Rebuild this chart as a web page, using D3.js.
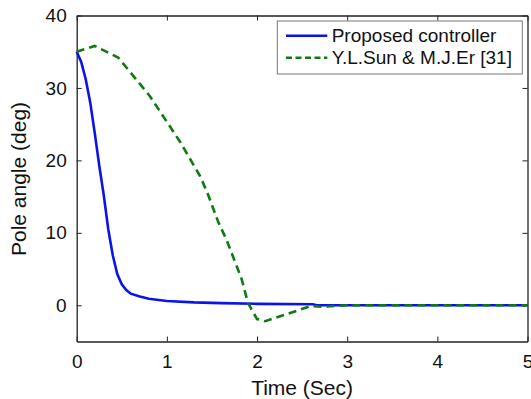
<!DOCTYPE html>
<html>
<head>
<meta charset="utf-8">
<script src="https://cdn.jsdelivr.net/npm/d3@7"></script>
<style>
  body { margin: 0; background: #fff; }
  svg { display: block; font-family: 'Liberation Sans', Arial, sans-serif; }
</style>
</head>
<body>
<div id="chart"></div>
<script>
// time (s) and pole angle (deg)
const proposedTime = [0, 0.05, 0.1, 0.15, 0.2, 0.25, 0.3, 0.35, 0.4, 0.45, 0.5, 0.55, 0.6, 0.7, 0.8, 1.0, 1.3, 1.6, 2.0, 2.62, 2.66, 5];
const proposedAngle = [35, 33.6, 31.2, 28, 23.8, 19.3, 15.2, 10.5, 6.9, 4.3, 2.9, 2.1, 1.6, 1.2, 0.9, 0.6, 0.4, 0.3, 0.2, 0.15, 0, 0];

const sunTime = [0, 0.2, 0.46, 0.81, 1.15, 1.37, 1.45, 1.57, 1.66, 1.83, 1.9, 2.0, 2.09, 2.6, 2.72, 3.0, 5];
const sunAngle = [35, 35.8, 34.2, 28.9, 22.5, 17.8, 15.5, 11.5, 9.1, 3.6, 0.3, -1.9, -2.2, -0.1, -0.2, 0, 0];

const xTicks = [0, 1, 2, 3, 4, 5];
const yTicks = [0, 10, 20, 30, 40];
const seriesNames = ['Proposed controller', 'Y.L.Sun & M.J.Er [31]'];

const W = 531, H = 399;
const padding = { top: 15.5, right: 3.5, bottom: 57.5, left: 76.7 };
const width = W - padding.left - padding.right;
const height = H - padding.top - padding.bottom;

const svg = d3.select('#chart')
  .append('svg')
  .attr('width', W)
  .attr('height', H)
  .append('g')
  .attr('transform', `translate(${padding.left},${padding.top})`);

const x = d3.scaleLinear().domain([0, 5]).range([0, width]);
const y = d3.scaleLinear().domain([-5, 40]).range([height, 0]);

const axisColor = '#222';
const styleAxis = g => {
  g.selectAll('.domain').attr('stroke', axisColor).attr('stroke-width', 1.3);
  g.selectAll('.tick line').attr('stroke', axisColor).attr('stroke-width', 1);
  g.selectAll('.tick text').attr('fill', '#111').style('font-size', '19px');
};

// bottom + left with labels, top + right only ticks (matlab box)
svg.append('g')
  .attr('transform', `translate(0,${height})`)
  .call(d3.axisBottom(x).tickValues(xTicks).tickSizeInner(-5).tickSizeOuter(0).tickPadding(13).tickFormat(d3.format('d')))
  .call(styleAxis);

svg.append('g')
  .call(d3.axisLeft(y).tickValues(yTicks).tickSizeInner(-5).tickSizeOuter(0).tickPadding(10).tickFormat(d3.format('d')))
  .call(styleAxis);

svg.append('g')
  .call(d3.axisTop(x).tickValues(xTicks).tickSizeInner(-5).tickSizeOuter(0).tickFormat(''))
  .call(styleAxis);

svg.append('g')
  .attr('transform', `translate(${width},0)`)
  .call(d3.axisRight(y).tickValues(yTicks).tickSizeInner(-5).tickSizeOuter(0).tickFormat(''))
  .call(styleAxis);

// lines
const line = d3.line()
  .x(d => x(d[0]))
  .y(d => y(d[1]));

svg.append('path')
  .datum(d3.zip(proposedTime, proposedAngle))
  .attr('fill', 'none')
  .attr('stroke', '#0a14e6')
  .attr('stroke-width', 2.6)
  .attr('d', line);

svg.append('path')
  .datum(d3.zip(sunTime, sunAngle))
  .attr('fill', 'none')
  .attr('stroke', '#0f7a14')
  .attr('stroke-width', 2.6)
  .attr('stroke-dasharray', '8,5')
  .attr('d', line);

// axis titles
svg.append('text')
  .attr('x', width / 2)
  .attr('y', H - padding.top - 4)
  .attr('text-anchor', 'middle')
  .style('font-size', '21px')
  .attr('fill', '#111')
  .text('Time (Sec)');

svg.append('text')
  .attr('transform', `translate(${26 - padding.left},${179 - padding.top}) rotate(-90)`)
  .attr('text-anchor', 'middle')
  .style('font-size', '21px')
  .attr('fill', '#111')
  .text('Pole angle (deg)');

// legend
const legend = svg.append('g')
  .attr('transform', `translate(${277.3 - padding.left},${21 - padding.top})`);

legend.append('rect')
  .attr('width', 245)
  .attr('height', 53)
  .attr('fill', '#fff')
  .attr('stroke', '#777')
  .attr('stroke-width', 1);

const legendStyles = [
  { color: '#0a14e6', dash: null },
  { color: '#0f7a14', dash: '6,3.5' }
];

const item = legend.selectAll('.item')
  .data(seriesNames)
  .enter()
  .append('g')
  .attr('class', 'item')
  .attr('transform', (d, i) => `translate(0,${14.7 + i * 22})`);

item.append('line')
  .attr('x1', 8.7)
  .attr('x2', 50)
  .attr('stroke', (d, i) => legendStyles[i].color)
  .attr('stroke-width', 2.6)
  .attr('stroke-dasharray', (d, i) => legendStyles[i].dash);

item.append('text')
  .attr('x', 54.4)
  .attr('y', 6.5)
  .style('font-size', '19px')
  .attr('fill', '#111')
  .text(d => d);
</script>
</body>
</html>
